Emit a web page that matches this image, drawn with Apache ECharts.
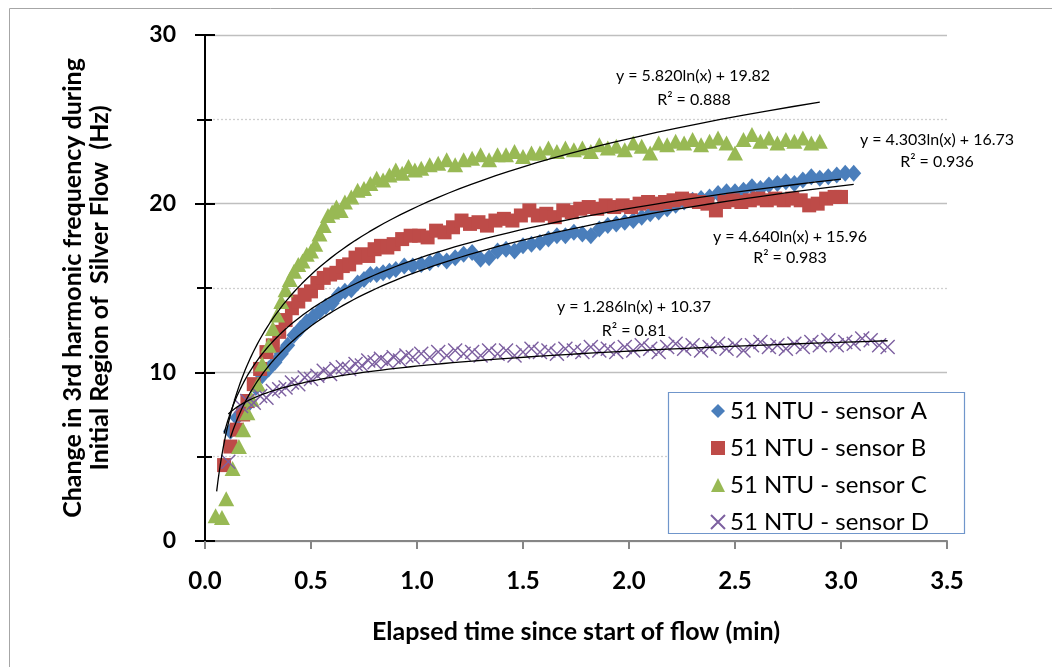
<!DOCTYPE html>
<html>
<head>
<meta charset="utf-8">
<script src="https://cdn.jsdelivr.net/npm/echarts@6/dist/echarts.min.js"></script>
<style>
html,body{margin:0;padding:0;background:#fff;}
#chart{width:1052px;height:667px;}
</style>
</head>
<body>
<div id="chart"></div>
<script>
// ---- data ----
const seriesNames = ['51 NTU - sensor A', '51 NTU - sensor B', '51 NTU - sensor C', '51 NTU - sensor D'];
const xTickLabels = ['0.0','0.5','1.0','1.5','2.0','2.5','3.0','3.5'];
const yTickLabels = ['0','10','20','30'];

const sensorA = [[0.12,6.5],[0.15,7.3],[0.18,7.8],[0.21,8.2],[0.24,9.1],[0.27,9.8],[0.30,10.2],[0.33,10.6],[0.36,11.1],[0.39,11.6],
[0.42,12.2],[0.45,12.6],[0.48,13.0],[0.51,13.3],[0.54,13.6],[0.57,13.9],[0.60,14.1],[0.63,14.6],[0.66,14.8],[0.69,14.9],
[0.72,15.3],[0.75,15.5],[0.78,15.8],[0.81,15.8],[0.84,15.9],[0.87,16.0],[0.90,16.1],
[0.94,16.3],[0.98,16.3],[1.02,16.4],[1.06,16.5],[1.10,16.7],[1.14,16.6],[1.18,16.8],[1.22,17.0],[1.26,17.1],[1.30,16.7],
[1.34,16.8],[1.38,17.2],[1.42,17.3],[1.46,17.2],[1.50,17.5],[1.54,17.6],[1.58,17.7],[1.62,17.9],[1.66,18.1],[1.70,18.1],
[1.74,18.3],[1.78,18.2],[1.82,18.1],[1.86,18.5],[1.90,18.7],[1.94,18.8],[1.98,18.9],[2.02,19.0],[2.06,19.2],[2.10,19.4],
[2.14,19.5],[2.18,19.7],[2.22,19.9],[2.26,20.1],[2.30,20.2],[2.34,20.3],[2.38,20.4],[2.42,20.6],[2.46,20.7],[2.50,20.7],
[2.54,20.8],[2.58,21.0],[2.62,20.9],[2.66,21.1],[2.70,21.2],[2.74,21.3],[2.78,21.2],[2.82,21.4],[2.86,21.6],[2.90,21.5],
[2.94,21.6],[2.98,21.7],[3.02,21.8],[3.06,21.8]];

const sensorB = [[0.09,4.5],[0.12,5.6],[0.15,6.6],[0.18,7.5],[0.20,8.3],[0.23,9.3],[0.26,10.2],[0.29,11.2],[0.32,11.6],[0.35,12.4],
[0.38,13.1],[0.41,13.8],[0.44,14.2],[0.47,14.6],[0.50,14.8],[0.53,15.3],[0.56,15.6],[0.59,15.8],[0.62,15.9],[0.65,16.3],
[0.68,16.4],[0.71,16.8],[0.74,17.0],[0.77,16.9],[0.80,17.3],[0.83,17.5],[0.86,17.4],[0.89,17.6],[0.93,17.9],[0.97,18.1],
[1.01,18.1],[1.05,18.0],[1.09,18.4],[1.13,18.3],[1.17,18.6],[1.21,19.0],[1.25,18.8],[1.29,18.9],[1.33,18.7],[1.37,19.0],
[1.41,19.1],[1.45,19.0],[1.49,19.3],[1.53,19.6],[1.57,19.3],[1.61,19.4],[1.65,19.2],[1.69,19.6],[1.73,19.5],[1.77,19.7],
[1.81,19.8],[1.85,19.7],[1.89,19.9],[1.93,19.8],[1.97,19.9],[2.01,19.8],[2.05,20.0],[2.09,20.1],[2.13,20.0],[2.17,20.1],
[2.21,20.2],[2.25,20.3],[2.29,20.2],[2.33,20.1],[2.37,20.0],[2.41,19.6],[2.45,20.1],[2.49,20.2],[2.53,20.1],[2.57,20.2],
[2.61,20.3],[2.65,20.2],[2.69,20.3],[2.73,20.2],[2.77,20.3],[2.81,20.2],[2.85,19.9],[2.89,20.0],[2.93,20.3],[2.97,20.4],[3.00,20.4]];

const sensorC = [[0.05,1.5],[0.08,1.4],[0.10,2.5],[0.13,4.3],[0.16,5.6],[0.18,6.6],[0.20,7.6],[0.22,8.4],[0.25,9.3],[0.27,10.5],
[0.30,11.6],[0.32,12.6],[0.34,13.4],[0.36,14.2],[0.38,14.9],[0.40,15.5],[0.42,16.0],[0.44,16.4],[0.46,16.6],[0.48,17.0],
[0.50,17.2],[0.52,17.6],[0.54,18.2],[0.56,18.7],[0.58,19.3],[0.60,19.5],[0.62,19.8],[0.64,19.6],[0.66,20.1],[0.69,20.4],
[0.72,20.8],[0.75,20.9],[0.78,21.2],[0.81,21.5],[0.84,21.4],[0.87,21.7],[0.90,22.0],[0.93,21.8],[0.96,22.2],[0.99,22.0],
[1.02,22.1],[1.06,22.3],[1.10,22.4],[1.14,22.6],[1.18,22.3],[1.22,22.6],[1.26,22.7],[1.30,22.9],[1.34,22.6],[1.38,22.9],
[1.42,22.9],[1.46,23.1],[1.50,22.8],[1.54,23.0],[1.58,23.0],[1.62,23.3],[1.66,23.1],[1.70,23.3],[1.74,23.2],[1.78,23.3],
[1.82,23.1],[1.86,23.5],[1.90,23.3],[1.94,23.4],[1.98,23.2],[2.02,23.6],[2.06,23.4],[2.10,23.0],[2.14,23.6],[2.18,23.5],
[2.22,23.7],[2.26,23.6],[2.30,23.8],[2.34,23.5],[2.38,23.7],[2.42,23.9],[2.46,23.6],[2.50,23.0],[2.54,23.8],[2.58,24.1],
[2.62,23.7],[2.66,23.9],[2.70,23.6],[2.74,23.8],[2.78,23.7],[2.82,23.9],[2.86,23.6],[2.90,23.7]];

const sensorD = [[0.11,4.7],[0.17,8.0],[0.20,8.3],[0.23,8.2],[0.26,8.6],[0.29,8.5],[0.32,8.9],[0.35,9.0],[0.38,9.1],[0.41,9.4],
[0.44,9.3],[0.47,9.7],[0.50,9.6],[0.53,9.8],[0.56,10.1],[0.59,9.9],[0.62,10.2],[0.65,10.3],[0.68,10.2],[0.71,10.5],
[0.74,10.4],[0.77,10.7],[0.80,10.6],[0.83,10.8],[0.86,10.6],[0.89,10.9],[0.92,10.7],[0.95,11.0],[0.98,10.9],[1.02,11.1],
[1.06,10.9],[1.10,11.2],[1.14,11.0],[1.18,11.3],[1.22,11.1],[1.26,11.2],[1.30,11.0],[1.34,11.3],[1.38,11.1],[1.42,11.3],
[1.46,11.0],[1.50,11.2],[1.54,11.4],[1.58,11.2],[1.62,11.3],[1.66,11.1],[1.70,11.4],[1.74,11.3],[1.78,11.2],[1.82,11.5],
[1.86,11.3],[1.90,11.4],[1.94,11.2],[1.98,11.5],[2.02,11.3],[2.06,11.6],[2.10,11.4],[2.14,11.2],[2.18,11.5],[2.22,11.7],
[2.26,11.4],[2.30,11.6],[2.34,11.3],[2.38,11.5],[2.42,11.7],[2.46,11.4],[2.50,11.6],[2.54,11.3],[2.58,11.6],[2.62,11.8],
[2.66,11.5],[2.70,11.6],[2.74,11.4],[2.78,11.7],[2.82,11.5],[2.86,11.8],[2.90,11.6],[2.94,11.9],[2.98,11.6],[3.02,11.8],
[3.06,11.7],[3.10,12.0],[3.14,11.9],[3.18,11.6],[3.22,11.5]];

// logarithmic trend lines shown in the picture: y = a*ln(x) + b, drawn over [xStart, xEnd]
const trendSlopes     = [4.640, 4.303, 5.820, 1.286];
const trendIntercepts = [15.96, 16.73, 19.82, 10.37];
const trendStarts     = [0.12, 0.09, 0.055, 0.11];
const trendEnds       = [3.06, 3.00, 2.90, 3.22];
const trendEquations  = ['y = 4.640ln(x) + 15.96', 'y = 4.303ln(x) + 16.73', 'y = 5.820ln(x) + 19.82', 'y = 1.286ln(x) + 10.37'];
const trendR2         = ['R\u00B2 = 0.983', 'R\u00B2 = 0.936', 'R\u00B2 = 0.888', 'R\u00B2 = 0.81'];

const xAxisTitle = 'Elapsed time since start of flow (min)';
const yAxisTitle = ['Change in 3rd harmonic frequency during', 'Initial Region of  Silver Flow  (Hz)'];

// ---- build ----
const colors = ['#4A7EBB', '#BE4B48', '#98B954', '#7D60A0'];
const FONT = 'Lato';
const xMarkPath = 'path://M0,0L10,10M10,0L0,10';

function trendPoints(i) {
  const pts = [];
  const n = 90;
  const a = Math.log(trendStarts[i]), b = Math.log(trendEnds[i]);
  for (let k = 0; k <= n; k++) {
    const x = Math.exp(a + (b - a) * k / n);
    pts.push([x, trendSlopes[i] * Math.log(x) + trendIntercepts[i]]);
  }
  return pts;
}

const chart = echarts.init(document.getElementById('chart'), null, {renderer: 'canvas'});

const scatterSeries = [
  {name: seriesNames[0], data: sensorA, symbol: 'diamond', symbolSize: [15, 17], itemStyle: {color: colors[0], opacity: 1}},
  {name: seriesNames[1], data: sensorB, symbol: 'rect', symbolSize: 14, itemStyle: {color: colors[1], opacity: 1}},
  {name: seriesNames[2], data: sensorC, symbol: 'triangle', symbolSize: [16, 15], itemStyle: {color: colors[2], opacity: 1}},
  {name: seriesNames[3], data: sensorD, symbol: xMarkPath, symbolSize: 14,
   itemStyle: {color: colors[3], borderColor: colors[3], borderWidth: 1.4, opacity: 1}}
].map(s => Object.assign({type: 'scatter', xAxisIndex: 0, yAxisIndex: 0, silent: true}, s));

const trendSeries = [0, 1, 2, 3].map(i => ({
  type: 'line', name: 'trend' + i, data: trendPoints(i), showSymbol: false, symbol: 'none',
  smooth: false, silent: true, z: 3,
  lineStyle: {color: '#000', width: 1.3}
}));

// annotation positions (pixel centres) for the trend equations
const notePos = [[790, 237, 790, 258], [937, 140, 937, 162], [693, 76, 694, 100], [634, 307, 634, 331]];
const graphics = [
  {type: 'rect', left: 7, top: 6, shape: {x: 0, y: 0, width: 1100, height: 700},
   style: {fill: 'none', stroke: '#A6A6A6', lineWidth: 1}, z: 0, silent: true},
  {type: 'rect', shape: {x: 668.5, y: 392.5, width: 296, height: 141},
   style: {fill: '#fff', stroke: '#7096CB', lineWidth: 1.2}, z: 3, silent: true}
];
notePos.forEach((p, i) => {
  graphics.push({type: 'text', x: p[0], y: p[1], z: 5, silent: true,
    style: {text: trendEquations[i], fill: '#000', font: '16px ' + FONT, textAlign: 'center', textVerticalAlign: 'middle'}});
  graphics.push({type: 'text', x: p[2], y: p[3], z: 5, silent: true,
    style: {text: trendR2[i], fill: '#000', font: '16px ' + FONT, textAlign: 'center', textVerticalAlign: 'middle'}});
});

const option = {
  animation: false,
  backgroundColor: '#fff',
  textStyle: {fontFamily: FONT},
  grid: {left: 205, right: 105, top: 35, bottom: 126, outerBoundsMode: 'none', containLabel: false},
  legend: {
    data: seriesNames, orient: 'vertical', left: 710, top: 399, padding: 0,
    itemWidth: 14, itemHeight: 14, itemGap: 13,
    textStyle: {fontFamily: FONT, fontSize: 24, color: '#000', lineHeight: 22},
    selectedMode: false, z: 6
  },
  xAxis: {
    type: 'value', min: 0, max: 3.5, interval: 0.5,
    name: xAxisTitle, nameLocation: 'middle', nameGap: 78,
    nameTextStyle: {fontFamily: FONT, fontSize: 25, fontWeight: 'bold', color: '#000', lineHeight: 26},
    axisLine: {show: true, onZero: false, lineStyle: {color: '#868686', width: 2}},
    axisTick: {show: true, inside: false, length: 8, lineStyle: {color: '#868686', width: 2}},
    axisLabel: {margin: 28, fontFamily: FONT, fontSize: 24, fontWeight: 'bold', color: '#000',
      formatter: v => xTickLabels[Math.round(v / 0.5)]},
    splitLine: {show: false}
  },
  yAxis: [{
    type: 'value', min: 0, max: 30, interval: 10, position: 'left',
    name: yAxisTitle.join('\n'), nameLocation: 'middle', nameRotate: 90, nameGap: 92,
    nameTextStyle: {fontFamily: FONT, fontSize: 25, fontWeight: 'bold', color: '#000', lineHeight: 27, align: 'center'},
    axisLine: {show: true, onZero: false, lineStyle: {color: '#000', width: 2}},
    axisTick: {show: true, inside: false, length: 10, lineStyle: {color: '#000', width: 2}},
    minorTick: {show: true, splitNumber: 2, length: 8, lineStyle: {color: '#000', width: 2}},
    axisLabel: {margin: 29, fontFamily: FONT, fontSize: 23, fontWeight: 'bold', color: '#000',
      formatter: v => yTickLabels[Math.round(v / 10)]},
    splitLine: {show: true, lineStyle: {color: '#BFBFBF', width: 1.3}},
    minorSplitLine: {show: true, lineStyle: {color: '#CFCFCF', width: 1.3, type: [2, 2]}}
  }, {
    type: 'value', min: 0, max: 30, interval: 10, position: 'left',
    axisLine: {show: false},
    axisTick: {show: true, inside: true, length: 10, lineStyle: {color: '#000', width: 2}},
    minorTick: {show: true, splitNumber: 2, length: 7, lineStyle: {color: '#000', width: 2}},
    axisLabel: {show: false},
    splitLine: {show: false}, minorSplitLine: {show: false}
  }],
  graphic: graphics,
  series: scatterSeries.concat(trendSeries)
};
chart.setOption(option);
</script>
</body>
</html>
